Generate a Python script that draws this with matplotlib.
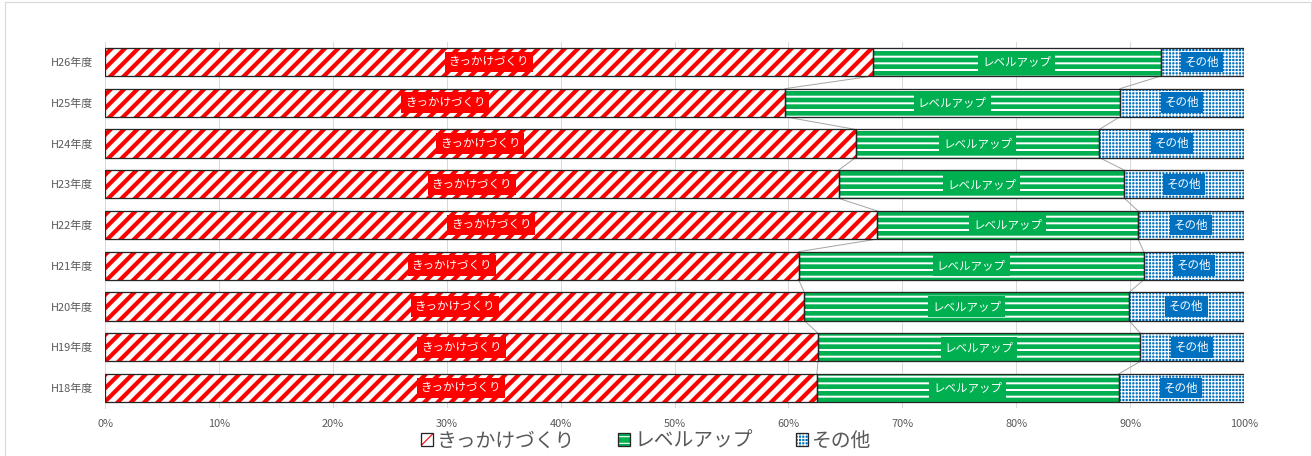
import matplotlib
matplotlib.use("Agg")
import matplotlib.pyplot as plt
from matplotlib.patches import Rectangle, Patch
from matplotlib.ticker import PercentFormatter
import numpy as np

DPI = 80
def px(v):
    return v * 72.0 / DPI

plt.rcParams['font.family'] = ['Noto Sans CJK JP', 'DejaVu Sans']

categories = ["H18年度", "H19年度", "H20年度", "H21年度", "H22年度",
              "H23年度", "H24年度", "H25年度", "H26年度"]
kikkake = [62.5, 62.6, 61.4, 60.9, 67.8, 64.4, 65.9, 59.7, 67.4]
levelup = [26.5, 28.3, 28.5, 30.3, 22.9, 25.1, 21.4, 29.4, 25.3]
sonota = [11.0, 9.1, 10.1, 8.8, 9.3, 10.5, 12.7, 10.9, 7.3]
series_names = ["きっかけづくり", "レベルアップ", "その他"]
xticks = [0, 10, 20, 30, 40, 50, 60, 70, 80, 90, 100]

RED = "#FF0000"
GREEN = "#00B050"
BLUE = "#0070C0"
EDGE = "#262626"
GRAY_TXT = "#595959"

fig = plt.figure(figsize=(1312 / DPI, 456 / DPI), dpi=DPI)
ax = fig.add_axes([105 / 1312, 1 - 408.4 / 456, 1139 / 1312, (408.4 - 41.6) / 456])

y = np.arange(len(categories))
h = 0.69
vals = [np.array(kikkake), np.array(levelup), np.array(sonota)]
lefts = [np.zeros(len(y)), vals[0], vals[0] + vals[1]]

# style: (facecolor, hatch, hatchcolor, hatch lw px)
styles = [
    ("white", "//", RED, 4.2),
    (GREEN, "--", "white", 2.0),
    (BLUE, "++++", "white", 1.1),
]

for v, l, (fc, hatch, hc, hlw) in zip(vals, lefts, styles):
    with plt.rc_context({'hatch.linewidth': px(hlw)}):
        bars = ax.barh(y, v, left=l, height=h, color=fc, edgecolor=hc,
                       hatch=hatch, linewidth=0, zorder=2)
        for b in bars:
            if hasattr(b, "set_hatch_linewidth"):
                b.set_hatch_linewidth(px(hlw))
    ax.barh(y, v, left=l, height=h, fill=False, edgecolor=EDGE,
            linewidth=px(1.3), zorder=3)

# series lines
for c in [lefts[1], lefts[2]]:
    for i in range(len(y) - 1):
        ax.plot([c[i], c[i + 1]], [y[i] + h / 2, y[i + 1] - h / 2],
                color="#A6A6A6", linewidth=px(1), zorder=1.5)

# data labels
box_colors = [RED, GREEN, BLUE]
for v, l, name, bc in zip(vals, lefts, series_names, box_colors):
    for yi, vi, li in zip(y, v, l):
        ax.text(li + vi / 2, yi, name, ha="center", va="center",
                color="white", fontsize=px(11.5), zorder=5,
                bbox=dict(boxstyle="square,pad=0.33", facecolor=bc,
                          edgecolor="none"))

ax.set_xlim(0, 100)
ax.set_ylim(-0.5, len(y) - 0.5)
ax.set_xticks(xticks)
ax.xaxis.set_major_formatter(PercentFormatter(decimals=0))
ax.set_yticks(y)
ax.set_yticklabels(categories)
ax.tick_params(axis="both", length=0, labelsize=px(11), labelcolor=GRAY_TXT)
ax.tick_params(axis="x", pad=px(11))
ax.tick_params(axis="y", pad=px(12))
ax.grid(axis="x", color="#D9D9D9", linewidth=px(1), zorder=0)
ax.set_axisbelow(True)
for s in ["top", "right", "bottom"]:
    ax.spines[s].set_visible(False)
ax.spines["left"].set_color("#D9D9D9")
ax.spines["left"].set_linewidth(px(1))

# legend
handles = []
for (fc, hatch, hc, hlw) in styles:
    with plt.rc_context({'hatch.linewidth': px(hlw)}):
        p1 = Patch(facecolor=fc, edgecolor=hc, hatch=hatch, linewidth=0)
        if hasattr(p1, "set_hatch_linewidth"):
            p1.set_hatch_linewidth(px(hlw))
    p2 = Patch(fill=False, edgecolor=EDGE, linewidth=px(1.3))
    handles.append((p1, p2))
leg = fig.legend(handles, series_names, loc="center",
                 bbox_to_anchor=(646 / 1312, 1 - 441 / 456), ncol=3,
                 frameon=False, fontsize=px(19.8), handlelength=0.6,
                 handleheight=0.6, handletextpad=0.2, columnspacing=2.2,
                 borderpad=0, labelcolor=GRAY_TXT)

# chart border
fig.patches.append(Rectangle((5 / 1312, -0.1), 1306 / 1312, 1.1 - 2 / 456,
                             transform=fig.transFigure, fill=False,
                             edgecolor="#D9D9D9", linewidth=px(1.2)))

fig.savefig("out.png", dpi=DPI)
